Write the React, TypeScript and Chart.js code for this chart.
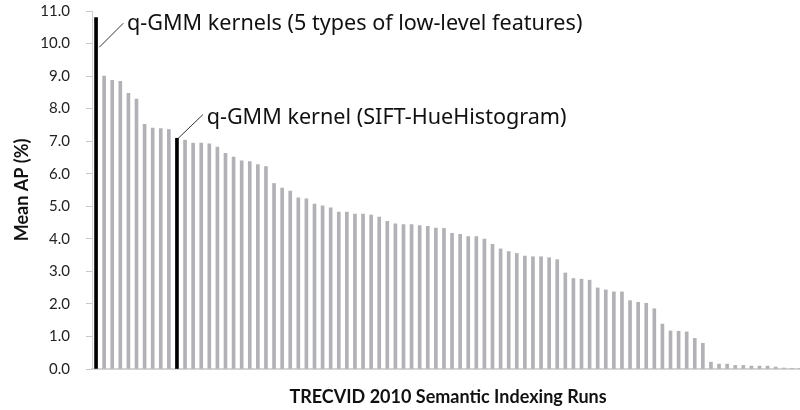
import React, { useEffect, useRef } from "react";
import { Chart, registerables } from "chart.js";

Chart.register(...registerables);

// Mean AP (%) of TRECVID 2010 semantic indexing runs, sorted descending
const meanAP: number[] = [
  10.8, 9.0, 8.87, 8.84, 8.47, 8.29, 7.52, 7.4, 7.39, 7.36,
  7.09, 7.03, 6.94, 6.94, 6.92, 6.82, 6.63, 6.51, 6.4, 6.37,
  6.28, 6.22, 5.7, 5.56, 5.47, 5.26, 5.23, 5.07, 5.01, 4.95,
  4.82, 4.82, 4.76, 4.76, 4.73, 4.67, 4.54, 4.46, 4.44, 4.44,
  4.41, 4.38, 4.33, 4.32, 4.17, 4.14, 4.07, 4.07, 3.99, 3.83,
  3.69, 3.61, 3.55, 3.47, 3.45, 3.45, 3.42, 3.36, 2.95, 2.78,
  2.76, 2.73, 2.49, 2.43, 2.37, 2.37, 2.1, 2.05, 2.02, 1.85,
  1.38, 1.17, 1.16, 1.14, 0.94, 0.79, 0.21, 0.15, 0.15, 0.11,
  0.11, 0.09, 0.09, 0.09, 0.06, 0.03, 0.02, 0.01,
];

const runLabels: string[] = meanAP.map((_, i) => `Run ${i + 1}`);

// indices of the highlighted (q-GMM) runs
const highlightedRuns: number[] = [0, 10];

const annotationTexts: string[] = [
  "q-GMM kernels (5 types of low-level features)",
  "q-GMM kernel (SIFT-HueHistogram)",
];

const yTicks: number[] = [0, 1, 2, 3, 4, 5, 6, 7, 8, 9, 10, 11];

const GRAY = "#b2b2b6";
const BLACK = "#000000";

// geometry of each annotation relative to its bar's top
const annotationGeom = [
  { lineStart: [3.3, 29.7], lineEnd: [27.3, 5.7], text: [31, 12] },
  { lineStart: [1, 0.3], lineEnd: [26, -23.7], text: [29.7, -14.7] },
];

const annotationPlugin = {
  id: "runAnnotations",
  afterDatasetsDraw(chart: any) {
    const meta = chart.getDatasetMeta(0);
    const ctx = chart.ctx;
    ctx.save();
    highlightedRuns.forEach((idx, k) => {
      const bar = meta.data[idx];
      if (!bar) return;
      const g = annotationGeom[k];
      const bx = bar.x;
      const by = bar.y;
      ctx.strokeStyle = "#333";
      ctx.lineWidth = 1;
      ctx.beginPath();
      ctx.moveTo(bx + g.lineStart[0], by + g.lineStart[1]);
      ctx.lineTo(bx + g.lineEnd[0], by + g.lineEnd[1]);
      ctx.stroke();
      ctx.fillStyle = "#111";
      ctx.font = '21.6px "Noto Sans"';
      ctx.textAlign = "left";
      ctx.textBaseline = "alphabetic";
      ctx.fillText(annotationTexts[k], bx + g.text[0], by + g.text[1]);
    });
    ctx.restore();
  },
};

export default function App() {
  const canvasRef = useRef<HTMLCanvasElement | null>(null);

  useEffect(() => {
    if (!canvasRef.current) return;
    const chart = new Chart(canvasRef.current, {
      type: "bar",
      data: {
        labels: runLabels,
        datasets: [
          {
            data: meanAP,
            backgroundColor: meanAP.map((_, i) =>
              highlightedRuns.includes(i) ? BLACK : GRAY
            ),
            barThickness: 3,
            borderWidth: 0,
          },
        ],
      },
      options: {
        animation: false,
        responsive: true,
        maintainAspectRatio: false,
        layout: { padding: { top: 11, right: 0, bottom: 0, left: 0 } },
        plugins: {
          legend: { display: false },
          tooltip: { enabled: false },
        },
        scales: {
          x: {
            grid: { display: false },
            border: { display: true, color: "#d4d4d4", width: 2 },
            ticks: { display: false },
            afterFit: (scale: any) => {
              scale.height = 41;
            },
            title: {
              display: true,
              text: "TRECVID 2010 Semantic Indexing Runs",
              color: "#111",
              font: { family: "Lato", size: 18, weight: "bold" },
              padding: { top: 17, bottom: 2 },
            },
          },
          y: {
            min: 0,
            max: 11,
            afterBuildTicks: (scale: any) => {
              scale.ticks = yTicks.map((v) => ({ value: v }));
            },
            afterFit: (scale: any) => {
              scale.width = 92;
              scale.paddingTop = 0;
              scale.paddingBottom = 0;
            },
            ticks: {
              color: "#222",
              font: { family: "Lato", size: 15 },
              padding: 16,
              callback: (v: any) => Number(v).toFixed(1),
            },
            grid: {
              drawOnChartArea: false,
              drawTicks: true,
              tickLength: 6,
              color: "#c8c8c8",
            },
            border: { display: true, color: "#d0d0d0", width: 1 },
            title: {
              display: true,
              text: "Mean AP (%)",
              color: "#111",
              font: { family: "Lato", size: 18, weight: "bold" },
              padding: { top: 11, bottom: 0 },
            },
          },
        },
      },
      plugins: [annotationPlugin],
    });
    return () => chart.destroy();
  }, []);

  return (
    <div
      style={{
        position: "fixed",
        left: 0,
        top: 0,
        width: 800,
        height: 410,
        overflow: "hidden",
        background: "#fff",
      }}
    >
      <div style={{ position: "relative", width: 804, height: 410 }}>
        <canvas ref={canvasRef} />
      </div>
    </div>
  );
}
